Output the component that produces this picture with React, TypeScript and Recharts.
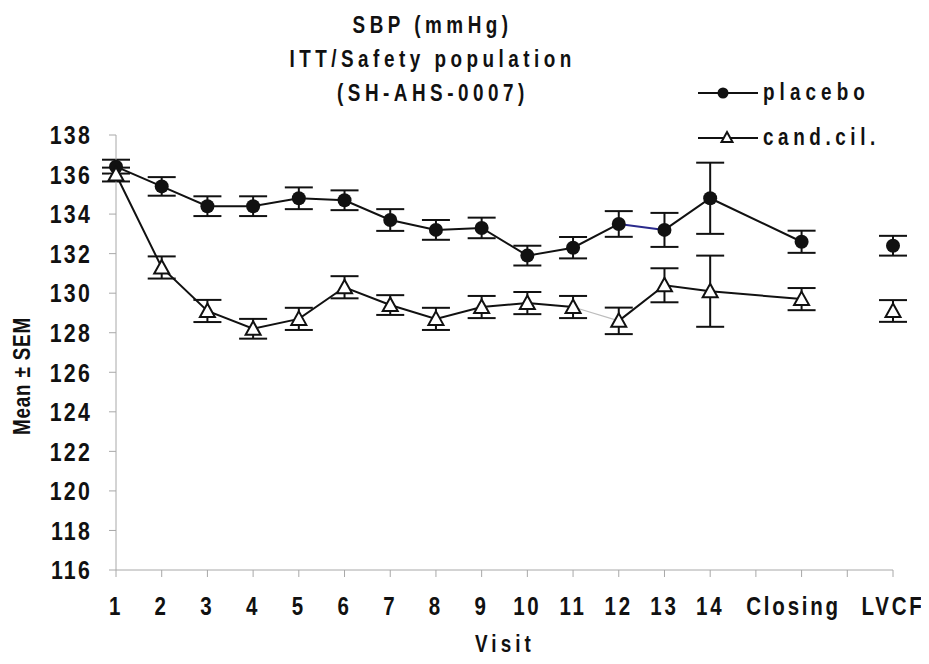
import { LineChart, Line, XAxis, YAxis, ErrorBar } from 'recharts';

// x tick labels, one per slot on the axis (slots 14 and 16 are empty)
const visitLabels = ['1', '2', '3', '4', '5', '6', '7', '8', '9', '10', '11', '12', '13', '14', '', 'Closing', '', 'LVCF'];
// slot of each measured visit
const visitSlot = [0, 1, 2, 3, 4, 5, 6, 7, 8, 9, 10, 11, 12, 13, 15, 17];

const placeboMean = [136.4, 135.4, 134.4, 134.4, 134.8, 134.7, 133.7, 133.2, 133.3, 131.9, 132.3, 133.5, 133.2, 134.8, 132.6, 132.4];
const placeboSem = [0.35, 0.47, 0.5, 0.5, 0.55, 0.5, 0.55, 0.5, 0.52, 0.5, 0.54, 0.65, 0.86, 1.8, 0.56, 0.5];
const candMean = [136.0, 131.3, 129.1, 128.2, 128.7, 130.3, 129.4, 128.7, 129.3, 129.5, 129.3, 128.6, 130.4, 130.1, 129.7, 129.1];
const candSem = [0.35, 0.56, 0.56, 0.5, 0.56, 0.56, 0.5, 0.56, 0.56, 0.56, 0.56, 0.67, 0.86, 1.8, 0.56, 0.55];

const yTicks = [116, 118, 120, 122, 124, 126, 128, 130, 132, 134, 136, 138];

const rows = visitSlot.map((x, i) => ({
  x,
  placebo: placeboMean[i],
  placeboErr: placeboSem[i],
  cand: candMean[i],
  candErr: candSem[i],
}));

// LVCF is not joined to the line; a couple of segments are drawn in another colour
const placeboA = rows.slice(0, 12);
const placeboB = rows.slice(11, 13);
const placeboC = rows.slice(12, 15);
const candA = rows.slice(0, 11);
const candB = rows.slice(10, 12);
const candC = rows.slice(11, 15);

const FONT = "'Liberation Sans', Arial, sans-serif";
const NARROW = 0.82; // the original uses a narrow face
const INK = '#111';
const AXIS = '#a8a8a8';

const CircleDot = (props: any) => {
  const { cx, cy, index } = props;
  if (cx == null || cy == null) return null;
  return <circle key={`c${index}`} cx={cx} cy={cy} r={7} fill={INK} />;
};

const TriangleDot = (props: any) => {
  const { cx, cy, index } = props;
  if (cx == null || cy == null) return null;
  return (
    <path
      key={`t${index}`}
      d={`M${cx},${cy - 7.5} L${cx + 7.5},${cy + 6} L${cx - 7.5},${cy + 6} Z`}
      fill="#fff"
      stroke={INK}
      strokeWidth={2}
    />
  );
};

const XTick = (props: any) => {
  const { x, y, payload } = props;
  const label = visitLabels[payload.value];
  return (
    <g transform={`translate(${x + (label === 'Closing' ? -8 : 0)},${y})`}>
      <text
        transform={`scale(${NARROW},1)`}
        textAnchor="middle"
        dy="0.71em"
        fill={INK}
        fontFamily={FONT}
        fontWeight="bold"
        fontSize={25}
        letterSpacing={3.4}
      >
        {label}
      </text>
    </g>
  );
};

const YTick = (props: any) => {
  const { x, y, payload } = props;
  return (
    <g transform={`translate(${x},${y})`}>
      <text
        transform={`scale(${NARROW},1)`}
        textAnchor="end"
        dy="0.355em"
        fill={INK}
        fontFamily={FONT}
        fontWeight="bold"
        fontSize={26}
        letterSpacing={2.7}
      >
        {payload.value}
      </text>
    </g>
  );
};

const LegendIcon = ({ kind }: { kind: 'circle' | 'triangle' }) => (
  <svg width={60} height={20} style={{ display: 'block' }}>
    <line x1={0} y1={10} x2={60} y2={10} stroke={INK} strokeWidth={2} />
    {kind === 'circle' ? (
      <circle cx={25} cy={10} r={5.5} fill={INK} />
    ) : (
      <path d="M29,4 L34.5,14 L23.5,14 Z" fill="#fff" stroke={INK} strokeWidth={2} />
    )}
  </svg>
);

const narrowSpan = (text: string, spacing: number, origin: string) => (
  <span
    style={{
      display: 'inline-block',
      transform: `scaleX(${NARROW})`,
      transformOrigin: origin,
      letterSpacing: spacing,
      whiteSpace: 'nowrap',
    }}
  >
    {text}
  </span>
);

export default function App() {
  const seg = (data: any[], key: string, color: string, width: number, id: string) => (
    <Line
      key={id}
      data={data}
      dataKey={key}
      type="linear"
      stroke={color}
      strokeWidth={width}
      dot={false}
      activeDot={false}
      isAnimationActive={false}
      legendType="none"
    />
  );

  return (
    <div style={{ position: 'relative', width: 921, height: 648, fontFamily: FONT, fontWeight: 'bold', color: INK }}>
      <div
        style={{
          position: 'absolute',
          left: 0,
          top: 0,
          width: 850,
          textAlign: 'center',
          fontSize: 23,
          lineHeight: '34px',
        }}
      >
        <div>{narrowSpan('SBP (mmHg)', 5.5, 'center')}</div>
        <div>{narrowSpan('ITT/Safety population', 5.5, 'center')}</div>
        <div>{narrowSpan('(SH-AHS-0007)', 5.5, 'center')}</div>
      </div>

      <div style={{ position: 'absolute', left: 690, top: 62, fontSize: 23 }}>
        <div style={{ display: 'flex', alignItems: 'center', height: 45 }}>
          <LegendIcon kind="circle" />
          <span style={{ marginLeft: 5 }}>{narrowSpan('placebo', 6.2, 'left')}</span>
        </div>
        <div style={{ display: 'flex', alignItems: 'center', height: 45 }}>
          <LegendIcon kind="triangle" />
          <span style={{ marginLeft: 5 }}>{narrowSpan('cand.cil.', 5.6, 'left')}</span>
        </div>
      </div>

      <div
        style={{
          position: 'absolute',
          left: 14,
          top: 368,
          transform: `translate(-50%, -50%) rotate(-90deg) scaleX(${NARROW})`,
          whiteSpace: 'nowrap',
          fontSize: 23,
          letterSpacing: 1,
        }}
      >
        Mean ± SEM
      </div>

      <div
        style={{
          position: 'absolute',
          left: 497,
          top: 636,
          transform: `translate(-50%, -50%) scaleX(${NARROW})`,
          whiteSpace: 'nowrap',
          fontSize: 23,
          letterSpacing: 5,
        }}
      >
        Visit
      </div>

      <LineChart width={921} height={648} margin={{ top: 127, right: 36, bottom: 0, left: 0 }}>
        <XAxis
          dataKey="x"
          type="number"
          domain={[0, 17]}
          ticks={visitLabels.map((_, i) => i)}
          interval={0}
          height={86}
          stroke={AXIS}
          tickSize={7}
          tickMargin={20}
          tick={<XTick />}
        />
        <YAxis
          type="number"
          domain={[116, 138]}
          ticks={yTicks}
          interval={0}
          width={108}
          stroke={AXIS}
          tickSize={7}
          tickMargin={17}
          tick={<YTick />}
        />
        {seg(placeboA, 'placebo', INK, 2, 'pa')}
        {seg(placeboC, 'placebo', INK, 2, 'pc')}
        {seg(placeboB, 'placebo', '#2a2a8c', 2, 'pb')}
        {seg(candA, 'cand', INK, 2, 'ca')}
        {seg(candC, 'cand', INK, 2, 'cc')}
        {seg(candB, 'cand', '#bdbdbd', 1.2, 'cb')}
        <Line
          data={rows}
          dataKey="placebo"
          name="placebo"
          stroke="none"
          dot={<CircleDot />}
          activeDot={false}
          isAnimationActive={false}
        >
          <ErrorBar dataKey="placeboErr" width={14} strokeWidth={2} stroke={INK} direction="y" />
        </Line>
        <Line
          data={rows}
          dataKey="cand"
          name="cand.cil."
          stroke="none"
          dot={<TriangleDot />}
          activeDot={false}
          isAnimationActive={false}
        >
          <ErrorBar dataKey="candErr" width={14} strokeWidth={2} stroke={INK} direction="y" />
        </Line>
      </LineChart>
    </div>
  );
}
